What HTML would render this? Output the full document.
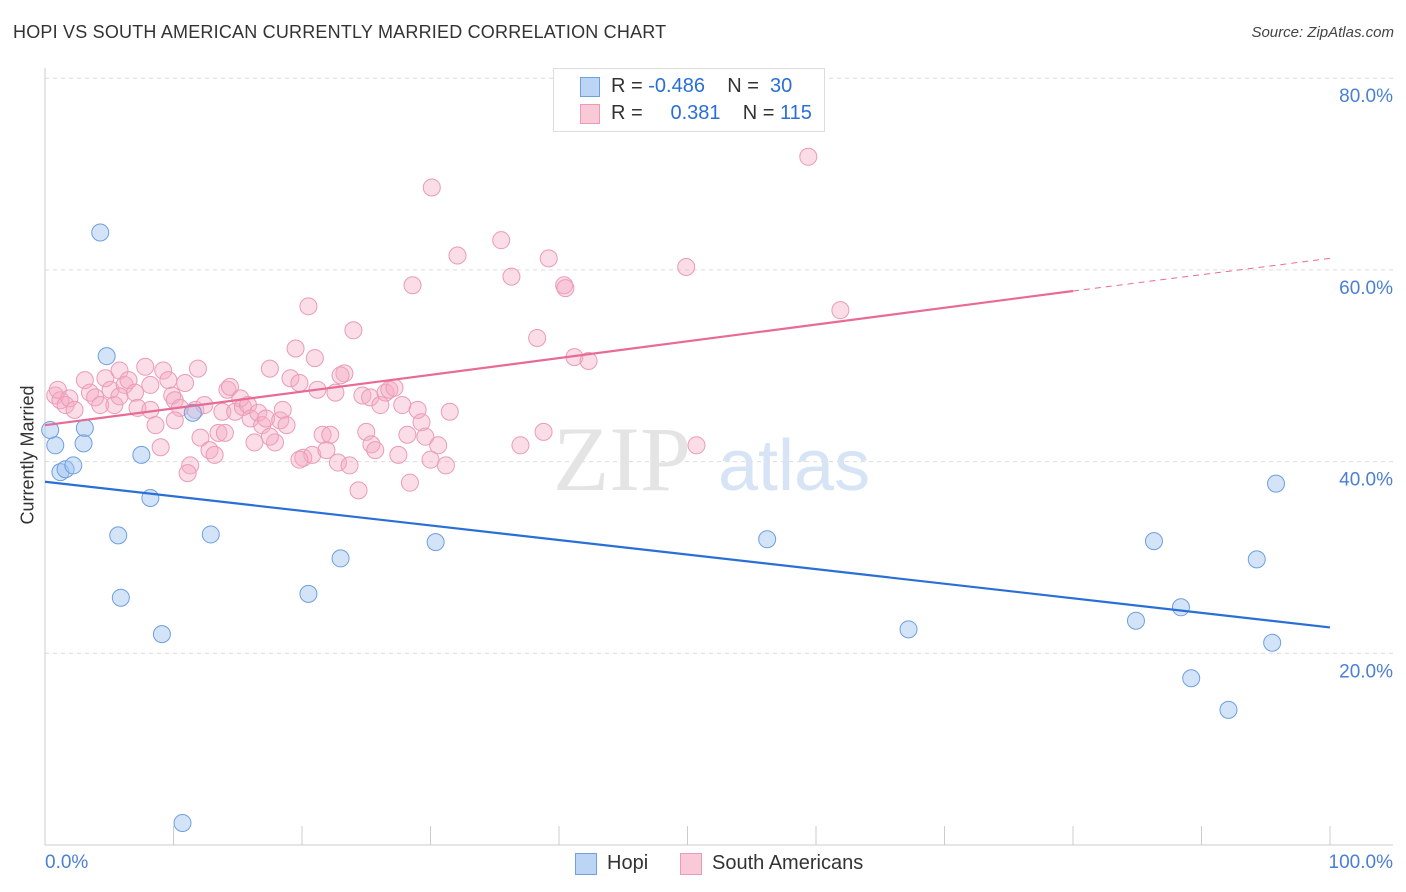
<!DOCTYPE html>
<html><head><meta charset="utf-8"><style>
body{margin:0;background:#fff;font-family:"Liberation Sans",sans-serif;}
#wrap{position:relative;width:1406px;height:892px;overflow:hidden;}
.t{position:absolute;white-space:nowrap;}
</style></head><body>
<div id="wrap">
<div class="t" style="left:13px;top:22px;font-size:18px;color:#333;letter-spacing:0.2px">HOPI VS SOUTH AMERICAN CURRENTLY MARRIED CORRELATION CHART</div>
<div class="t" style="right:12px;top:24px;font-size:15px;color:#444;font-style:italic">Source: ZipAtlas.com</div>
<svg id="svg" width="1406" height="892" style="position:absolute;left:0;top:0"></svg>
</div>
<script>
const hopiX=[4.3,4.8,0.8,1.2,1.6,2.2,3.1,3.0,7.5,8.2,5.7,5.9,9.1,11.5,12.9,10.7,20.5,23.0,30.4,56.2,67.2,86.3,84.9,88.4,89.2,92.1,94.3,95.5,95.8,0.4];
const hopiY=[63.9,51.0,41.7,38.9,39.2,39.6,43.5,41.9,40.7,36.2,32.3,25.8,22.0,45.1,32.4,2.3,26.2,29.9,31.6,31.9,22.5,31.7,23.4,24.8,17.4,14.1,29.8,21.1,37.7,43.3];
const saX=[0.8,1.2,1.6,1.0,1.9,2.3,3.1,3.5,3.9,4.3,4.7,5.1,5.4,5.8,6.2,6.5,7.0,7.2,7.8,8.2,8.6,9.0,9.2,9.6,9.9,10.1,10.5,10.9,11.3,11.1,11.7,11.9,12.1,12.4,12.8,13.2,13.5,13.8,14.2,14.4,14.8,15.2,15.4,15.8,16.0,16.3,16.6,16.9,17.2,17.5,17.9,18.3,18.5,18.8,19.1,19.5,19.8,20.1,20.5,20.8,21.0,21.2,21.6,21.9,22.2,22.6,22.8,23.3,23.7,24.0,24.4,24.7,25.0,25.3,25.4,25.7,26.1,26.5,26.8,27.2,27.5,27.8,28.2,28.4,28.6,29.0,29.3,29.6,30.0,30.1,30.6,31.2,31.5,32.1,35.5,36.3,37.0,38.3,38.8,39.2,40.4,40.5,41.2,42.3,49.9,50.7,59.4,61.9,19.8,17.5,14.0,5.8,8.2,10.1,23.0];
const saY=[46.9,46.4,45.9,47.5,46.6,45.4,48.5,47.2,46.7,45.9,48.7,47.5,45.9,49.5,48.0,48.5,47.2,45.6,49.9,45.4,43.8,41.5,49.5,48.5,46.9,46.4,45.6,48.2,39.6,38.8,45.4,49.7,42.5,45.9,41.2,40.7,43.0,45.2,47.5,47.8,45.2,46.6,45.7,45.9,44.5,42.0,45.1,43.8,44.5,49.7,42.0,44.3,45.4,43.8,48.7,51.8,48.2,40.4,56.2,40.7,50.8,47.5,42.8,41.2,42.8,47.2,39.9,49.2,39.6,53.7,37.0,46.9,43.1,46.7,41.8,41.2,45.9,47.2,47.5,47.7,40.7,45.9,42.8,37.8,58.4,45.4,44.1,42.6,40.2,68.6,41.7,39.6,45.2,61.5,63.1,59.3,41.7,52.9,43.1,61.2,58.4,58.1,50.9,50.5,60.3,41.7,71.8,55.8,40.2,42.6,43.0,46.8,48.0,44.3,49.0];
const hopiTrend=[0,37.9,100,22.7];
const saTrend=[0,43.8,80,57.8,100,61.2];
const yTicks=[20,40,60,80];
const yTickLabels=["20.0%","40.0%","60.0%","80.0%"];
const xTicks=[0,10,20,30,40,50,60,70,80,90,100];

const NS="http://www.w3.org/2000/svg";
const svg=document.getElementById('svg');
const X=v=>45+v*12.85, Y=v=>845-v*9.585;
function mk(tag,attrs,parent){const e=document.createElementNS(NS,tag);for(const k in attrs)e.setAttribute(k,attrs[k]);(parent||svg).appendChild(e);return e;}
yTicks.forEach((t,i)=>{
 const g=mk('line',{x1:45,x2:1393,y1:Y(t),y2:Y(t),stroke:'#dcdcdc','stroke-dasharray':'4,4'});
 
 
 const l=mk('text',{x:1393,y:Y(t)+24,'text-anchor':'end','font-size':19,fill:'#4a7fd6','font-family':'Liberation Sans'});
 l.textContent=yTickLabels[i];
 
 
});
const ax=mk('line',{x1:45,x2:1393,y1:845,y2:845,stroke:'#ccc'});


const ay=mk('line',{x1:45,x2:45,y1:68,y2:845,stroke:'#ccc'});


xTicks.forEach(t=>{const e=mk('line',{x1:X(t),x2:X(t),y1:845,y2:t>0?826:845,stroke:'#ccc'});
 
 });
const w1=mk('text',{x:553,y:490,'font-size':92,fill:'#e4e4e4','font-family':'Liberation Serif'});w1.textContent='ZIP';


const w2=mk('text',{x:718,y:490,'font-size':72,fill:'#d6e4f5','font-family':'Liberation Sans'});w2.textContent='atlas';


saX.forEach((x,i)=>{const c=mk('circle',{cx:X(x),cy:Y(saY[i]),r:8.5,fill:'rgba(244,170,195,0.4)',stroke:'#eb9bb5','stroke-width':1});
 
 });
hopiX.forEach((x,i)=>{const c=mk('circle',{cx:X(x),cy:Y(hopiY[i]),r:8.5,fill:'rgba(160,195,240,0.45)',stroke:'#6e9fe0','stroke-width':1});
 
 });
const bt=mk('line',{x1:X(hopiTrend[0]),y1:Y(hopiTrend[1]),x2:X(hopiTrend[2]),y2:Y(hopiTrend[3]),stroke:'#2a6fd6','stroke-width':2.2});


const pt=mk('line',{x1:X(saTrend[0]),y1:Y(saTrend[1]),x2:X(saTrend[2]),y2:Y(saTrend[3]),stroke:'#e86b96','stroke-width':2.2});


const pd=mk('line',{x1:X(saTrend[2]),y1:Y(saTrend[3]),x2:X(saTrend[4]),y2:Y(saTrend[5]),stroke:'#e86b96','stroke-width':1,'stroke-dasharray':'6,5'});


</script>
<div class="t" style="left:45px;top:852px;font-size:19px;color:#4a7fd6">0.0%</div>
<div class="t" style="right:13px;top:852px;font-size:19px;color:#4a7fd6">100.0%</div>
<div class="t" style="top:455px;font-size:18px;color:#333;transform:translate(-50%,-50%) rotate(-90deg);transform-origin:center;left:28px">Currently Married</div>
<div style="position:absolute;left:553px;top:68px;width:270px;height:62px;border:1px solid #ddd;background:#fff;font-size:20px">
 <div style="position:absolute;left:26px;top:8px;width:18px;height:18px;background:#bcd5f5;border:1px solid #6e9fe0"></div>
 <div class="t" style="left:57px;top:6px;color:#333">R = <span style="color:#2a6fd6">-0.486</span>&nbsp;&nbsp;&nbsp;&nbsp;N = &nbsp;<span style="color:#2a6fd6">30</span></div>
 <div style="position:absolute;left:26px;top:35px;width:18px;height:18px;background:#f9c9d8;border:1px solid #eb9bb5"></div>
 <div class="t" style="left:57px;top:33px;color:#333">R = &nbsp;&nbsp;&nbsp;&nbsp;<span style="color:#2a6fd6">0.381</span>&nbsp;&nbsp;&nbsp;&nbsp;N = <span style="color:#2a6fd6">115</span></div>
</div>
<div style="position:absolute;left:575px;top:853px;width:20px;height:20px;background:#bcd5f5;border:1px solid #6e9fe0"></div>
<div class="t" style="left:607px;top:852px;font-size:20px;color:#333">Hopi</div>
<div style="position:absolute;left:680px;top:853px;width:20px;height:20px;background:#f9c9d8;border:1px solid #eb9bb5"></div>
<div class="t" style="left:712px;top:852px;font-size:20px;color:#333">South Americans</div>
</body></html>
